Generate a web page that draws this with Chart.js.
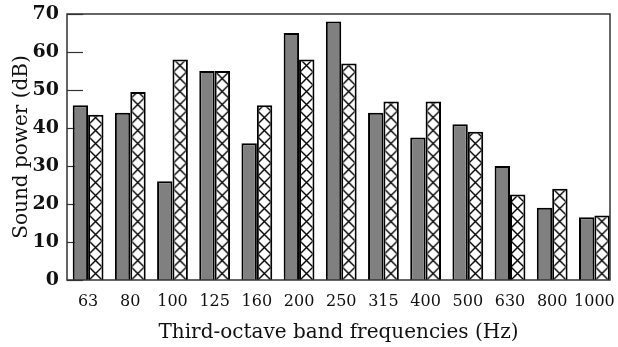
<!DOCTYPE html>
<html>
<head>
<meta charset="utf-8">
<script src="https://cdn.jsdelivr.net/npm/chart.js@4/dist/chart.umd.min.js"></script>
<style>
  html, body { margin: 0; padding: 0; background: #fff; }
  #wrap { width: 618px; height: 347px; }
</style>
</head>
<body>
<div id="wrap"><canvas id="powerChart" width="618" height="347"></canvas></div>
<script>
// band centre frequencies and the two measured spectra
const bands = ['63', '80', '100', '125', '160', '200', '250', '315', '400', '500', '630', '800', '1000'];
const solidSeries = [46, 44, 26, 55, 36, 65, 68, 44, 37.5, 41, 30, 19, 16.5];
const hatchSeries = [43.5, 49.5, 58, 55, 46, 58, 57, 47, 47, 39, 22.5, 24, 17];
const yTicks = [0, 10, 20, 30, 40, 50, 60, 70];

const FONT = "'DejaVu Serif', serif";
const CAT_PCT = 0.73;

// cross-hatch tile, one X per bar width, anchored to each bar's left edge
function hatchFor(ctx) {
    const chart = ctx.chart;
    const xs = chart.scales.x;
    if (!xs || ctx.dataIndex === undefined || !chart.chartArea) return '#fff';
    const step = xs.getPixelForValue(1) - xs.getPixelForValue(0);
    const size = Math.round(step * CAT_PCT / 2) - 2;
    if (!(size > 2)) return '#fff';
    const left = xs.getPixelForValue(ctx.dataIndex);
    const tile = document.createElement('canvas');
    tile.width = size;
    tile.height = size;
    const t = tile.getContext('2d');
    t.fillStyle = '#fff';
    t.fillRect(0, 0, size, size);
    t.strokeStyle = '#000';
    t.lineWidth = 1.4;
    t.beginPath();
    t.moveTo(0, 0); t.lineTo(size, size);
    t.moveTo(size, 0); t.lineTo(0, size);
    t.stroke();
    const pat = chart.ctx.createPattern(tile, 'repeat');
    pat.setTransform(new DOMMatrix().translate(left + 1, chart.chartArea.bottom));
    return pat;
}

// inward tick marks on the value axis, under the bars, plus the frame
const innerTicks = {
    id: 'innerTicks',
    beforeDatasetsDraw(chart) {
        const c = chart.ctx;
        const ys = chart.scales.y;
        const area = chart.chartArea;
        c.save();
        c.strokeStyle = '#333';
        c.lineWidth = 1.2;
        yTicks.forEach(v => {
            const py = Math.round(ys.getPixelForValue(v)) + 0.5;
            c.beginPath();
            c.moveTo(area.left, py);
            c.lineTo(area.left + 16, py);
            c.stroke();
        });
        c.restore();
    },
    afterDraw(chart) {
        const c = chart.ctx;
        const a = chart.chartArea;
        c.save();
        c.strokeStyle = '#333';
        c.lineWidth = 1.5;
        c.strokeRect(a.left, a.top, a.right - a.left, a.bottom - a.top);
        c.restore();
    }
};

new Chart(document.getElementById('powerChart'), {
    type: 'bar',
    data: {
        labels: bands,
        datasets: [
            {
                data: solidSeries,
                backgroundColor: '#808080',
                borderColor: '#000',
                borderWidth: 2,
                borderSkipped: 'bottom'
            },
            {
                data: hatchSeries,
                backgroundColor: hatchFor,
                borderColor: '#000',
                borderWidth: 2,
                borderSkipped: 'bottom'
            }
        ]
    },
    options: {
        responsive: false,
        animation: false,
        devicePixelRatio: 1,
        layout: { padding: { left: 0, right: 8, top: 14, bottom: 0 } },
        datasets: { bar: { categoryPercentage: CAT_PCT, barPercentage: 1.0 } },
        plugins: { legend: { display: false }, tooltip: { enabled: false } },
        scales: {
            x: {
                grid: { display: false, drawTicks: false },
                border: { display: false },
                ticks: {
                    color: '#111',
                    padding: 12,
                    maxRotation: 0,
                    minRotation: 0,
                    autoSkip: false,
                    font: { family: FONT, size: 16 }
                },
                title: {
                    display: true,
                    text: 'Third-octave band frequencies (Hz)',
                    color: '#111',
                    padding: { top: 0, bottom: 2 },
                    font: { family: FONT, size: 20 }
                },
                // last group sits right against the frame, so trim the right-hand half step
                afterBuildTicks(scale) { scale._valueRange = bands.length - 0.13; },
                afterFit(scale) {
                    scale.height = 67;
                    scale.paddingLeft = 0;
                    scale.paddingRight = 0;
                }
            },
            y: {
                min: 0,
                max: 70,
                afterBuildTicks(scale) { scale.ticks = yTicks.map(v => ({ value: v })); },
                grid: { display: false, drawTicks: false },
                border: { display: false },
                ticks: { color: '#111', padding: 8, font: { family: FONT, size: 19, weight: 'bold' } },
                title: {
                    display: true,
                    text: 'Sound power (dB)',
                    color: '#111',
                    padding: { top: 10, bottom: 0 },
                    font: { family: FONT, size: 20 }
                },
                afterFit(scale) {
                    scale.width = 67;
                    scale.paddingTop = 0;
                    scale.paddingBottom = 0;
                }
            }
        }
    },
    plugins: [innerTicks]
});
</script>
</body>
</html>
